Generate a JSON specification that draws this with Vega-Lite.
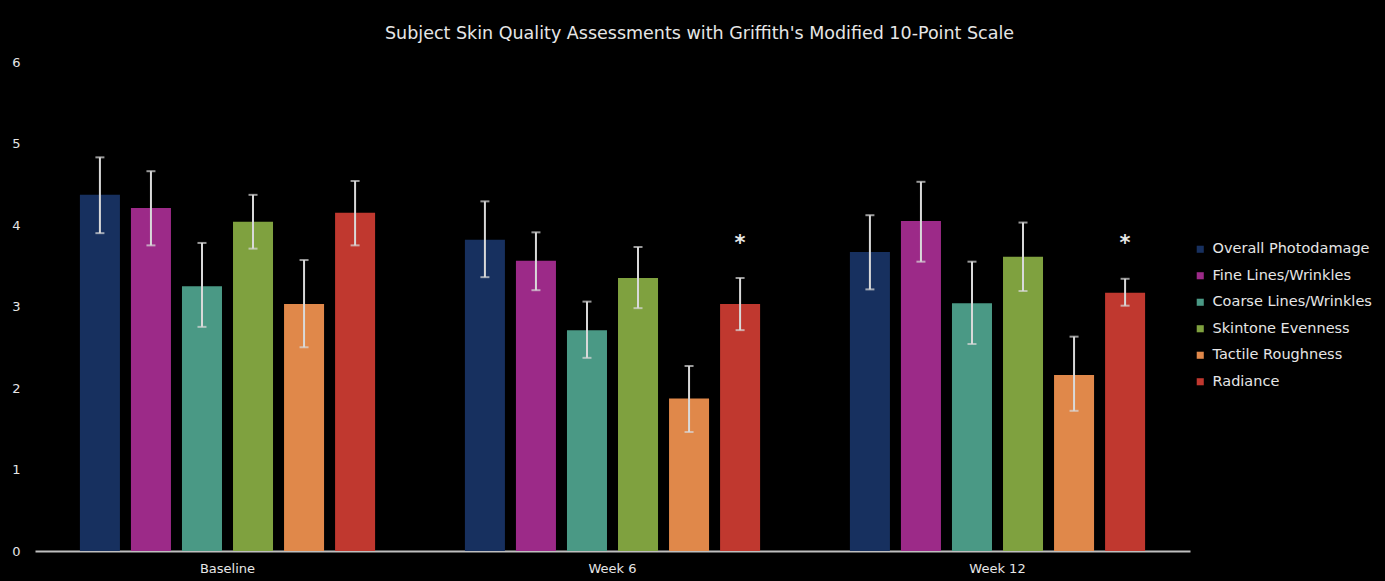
{
  "$schema": "https://vega.github.io/schema/vega-lite/v6.json",
  "background": "#000000",
  "autosize": "none",
  "width": 1155,
  "height": 489,
  "padding": {"left": 35, "top": 62, "right": 195, "bottom": 30},
  "title": {"text": "Subject Skin Quality Assessments with Griffith's Modified 10-Point Scale", "color": "#e6e6e6", "font": "DejaVu Sans", "fontSize": 17.5, "fontWeight": "normal", "anchor": "middle", "dx": 87, "offset": 14},
  "config": {"view": {"stroke": null}, "font": "DejaVu Sans"},
  "data": {"values": [
    {"time": "Baseline", "measure": "Overall Photodamage", "mean": 4.37, "lo": 3.90, "hi": 4.83, "sig": ""},
    {"time": "Baseline", "measure": "Fine Lines/Wrinkles", "mean": 4.21, "lo": 3.75, "hi": 4.66, "sig": ""},
    {"time": "Baseline", "measure": "Coarse Lines/Wrinkles", "mean": 3.25, "lo": 2.75, "hi": 3.78, "sig": ""},
    {"time": "Baseline", "measure": "Skintone Evenness", "mean": 4.04, "lo": 3.71, "hi": 4.37, "sig": ""},
    {"time": "Baseline", "measure": "Tactile Roughness", "mean": 3.03, "lo": 2.50, "hi": 3.57, "sig": ""},
    {"time": "Baseline", "measure": "Radiance", "mean": 4.15, "lo": 3.75, "hi": 4.54, "sig": ""},
    {"time": "Week 6", "measure": "Overall Photodamage", "mean": 3.82, "lo": 3.36, "hi": 4.29, "sig": ""},
    {"time": "Week 6", "measure": "Fine Lines/Wrinkles", "mean": 3.56, "lo": 3.20, "hi": 3.91, "sig": ""},
    {"time": "Week 6", "measure": "Coarse Lines/Wrinkles", "mean": 2.71, "lo": 2.37, "hi": 3.06, "sig": ""},
    {"time": "Week 6", "measure": "Skintone Evenness", "mean": 3.35, "lo": 2.98, "hi": 3.73, "sig": ""},
    {"time": "Week 6", "measure": "Tactile Roughness", "mean": 1.87, "lo": 1.46, "hi": 2.27, "sig": ""},
    {"time": "Week 6", "measure": "Radiance", "mean": 3.03, "lo": 2.71, "hi": 3.35, "sig": "*"},
    {"time": "Week 12", "measure": "Overall Photodamage", "mean": 3.67, "lo": 3.21, "hi": 4.12, "sig": ""},
    {"time": "Week 12", "measure": "Fine Lines/Wrinkles", "mean": 4.05, "lo": 3.55, "hi": 4.53, "sig": ""},
    {"time": "Week 12", "measure": "Coarse Lines/Wrinkles", "mean": 3.04, "lo": 2.54, "hi": 3.55, "sig": ""},
    {"time": "Week 12", "measure": "Skintone Evenness", "mean": 3.61, "lo": 3.19, "hi": 4.03, "sig": ""},
    {"time": "Week 12", "measure": "Tactile Roughness", "mean": 2.16, "lo": 1.72, "hi": 2.63, "sig": ""},
    {"time": "Week 12", "measure": "Radiance", "mean": 3.17, "lo": 3.01, "hi": 3.34, "sig": "*"}
  ]},
  "encoding": {
    "x": {"field": "time", "type": "nominal", "sort": ["Baseline", "Week 6", "Week 12"],
      "scale": {"paddingInner": 0, "paddingOuter": 0},
      "axis": {"title": null, "labelAngle": 0, "labelColor": "#e6e6e6", "labelFontSize": 13, "labelPadding": 11, "ticks": false, "domainColor": "#bfbfbf", "domainWidth": 2, "grid": false}},
    "xOffset": {"field": "measure", "type": "nominal",
      "sort": ["Overall Photodamage", "Fine Lines/Wrinkles", "Coarse Lines/Wrinkles", "Skintone Evenness", "Tactile Roughness", "Radiance"],
      "scale": {"paddingInner": 0.216, "paddingOuter": 0.88}}
  },
  "layer": [
    {
      "mark": {"type": "bar"},
      "encoding": {
        "y": {"field": "mean", "type": "quantitative", "scale": {"domain": [0, 6]},
          "axis": {"title": null, "values": [0, 1, 2, 3, 4, 5, 6], "format": "d", "labelColor": "#e6e6e6", "labelFontSize": 13, "labelPadding": 15, "ticks": false, "domain": false, "grid": false}},
        "color": {"field": "measure", "type": "nominal",
          "sort": ["Overall Photodamage", "Fine Lines/Wrinkles", "Coarse Lines/Wrinkles", "Skintone Evenness", "Tactile Roughness", "Radiance"],
          "scale": {"domain": ["Overall Photodamage", "Fine Lines/Wrinkles", "Coarse Lines/Wrinkles", "Skintone Evenness", "Tactile Roughness", "Radiance"],
            "range": ["#17305f", "#9c2a88", "#4a9985", "#7fa13f", "#e0884a", "#c0382f"]},
          "legend": {"title": null, "orient": "none", "legendX": 1158, "legendY": 180, "symbolType": "square", "symbolSize": 50, "labelColor": "#e6e6e6", "labelFontSize": 14.5, "labelLimit": 300, "labelOffset": 5, "rowPadding": 11.5, "symbolStrokeWidth": 0}}
      }
    },
    {
      "mark": {"type": "rule", "color": "#d9d9d9", "strokeWidth": 2},
      "encoding": {"y": {"field": "lo", "type": "quantitative"}, "y2": {"field": "hi"}}
    },
    {
      "mark": {"type": "tick", "color": "#d9d9d9", "thickness": 2, "size": 9},
      "encoding": {"y": {"field": "lo", "type": "quantitative"}}
    },
    {
      "mark": {"type": "tick", "color": "#d9d9d9", "thickness": 2, "size": 9},
      "encoding": {"y": {"field": "hi", "type": "quantitative"}}
    },
    {
      "mark": {"type": "text", "color": "#e6e6e6", "fontSize": 21, "fontWeight": "bold", "baseline": "middle", "dy": 4},
      "encoding": {"y": {"datum": 3.82, "type": "quantitative"}, "text": {"field": "sig"}}
    }
  ]
}
